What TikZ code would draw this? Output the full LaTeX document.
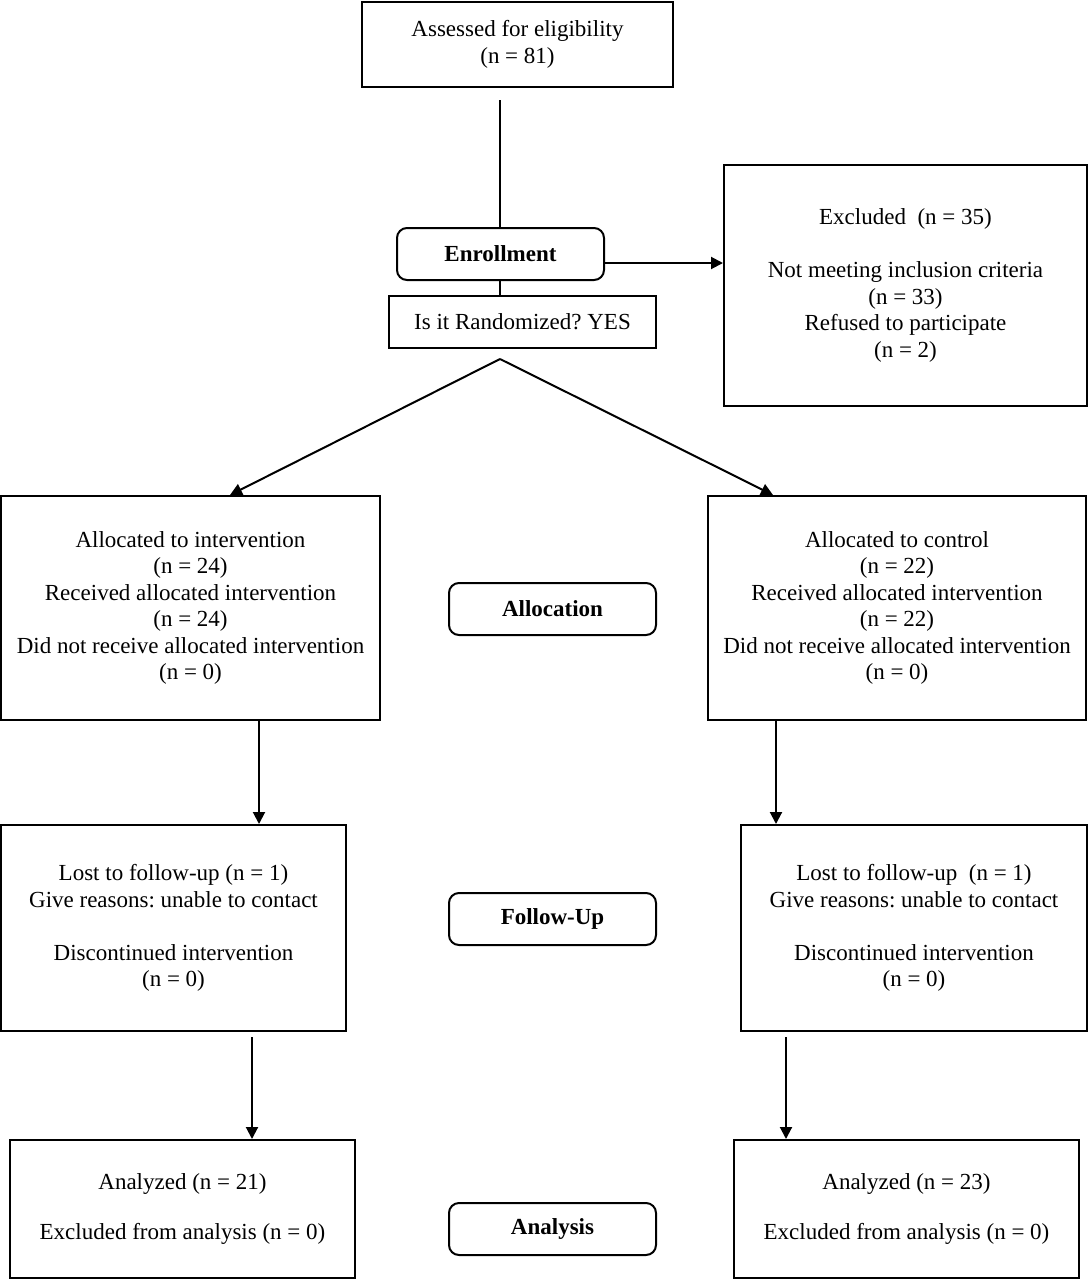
\documentclass[tikz,border=0pt]{standalone}
\usepackage{fontspec}
\setmainfont{Liberation Serif}
\usetikzlibrary{arrows.meta,calc}
\frenchspacing
\begin{document}
\begin{tikzpicture}[x=0.5pt,y=-0.5pt,
  every node/.style={font=\fontsize{11.5pt}{13.25pt}\selectfont, align=center, inner sep=0pt},
  box/.style={draw, line width=1pt, rectangle},
  stage/.style={draw, line width=1pt, rounded corners=5pt, minimum width=103.5pt, minimum height=26pt, font=\fontsize{11.5pt}{13.25pt}\selectfont\bfseries},
  conn/.style={line width=1pt},
  arr/.style={line width=1pt, -{Triangle[length=6pt,width=6pt]}}
]
\useasboundingbox (0,0) rectangle (1088,1280);

\node[box, minimum width=155.5pt, minimum height=42.5pt] (assess) at (517.5,44.5) {Assessed for eligibility\\(n = 81)};
\node[stage] (enroll) at (500.5,254) {Enrollment};
\node[box, minimum width=133.5pt, minimum height=26pt] (random) at (522.5,322) {Is it Randomized? YES};
\node[box, minimum width=181.5pt, minimum height=120.5pt] (excl) at (905.5,285.5) {Excluded\ \ (n = 35)\\[13.25pt]Not meeting inclusion criteria\\(n = 33)\\Refused to participate\\(n = 2)};

\node[box, minimum width=189.5pt, minimum height=112pt] (allocL) at (190.5,608) {Allocated to intervention\\(n = 24)\\Received allocated intervention\\(n = 24)\\Did not receive allocated intervention\\(n = 0)};
\node[box, minimum width=189pt, minimum height=112pt] (allocR) at (897,608) {Allocated to control\\(n = 22)\\Received allocated intervention\\(n = 22)\\Did not receive allocated intervention\\(n = 0)};
\node[stage] (allocS) at (552.5,609) {Allocation};

\node[box, minimum width=172.5pt, minimum height=103pt] (fuL) at (173.5,928) {Lost to follow-up (n = 1)\\Give reasons: unable to contact\\[13.25pt]Discontinued intervention\\(n = 0)};
\node[box, minimum width=173pt, minimum height=103pt] (fuR) at (914,928) {Lost to follow-up\ \ (n = 1)\\Give reasons: unable to contact\\[13.25pt]Discontinued intervention\\(n = 0)};
\node[stage] (fuS) at (552.5,919) {Follow-Up};

\node[box, minimum width=172.5pt, minimum height=69pt] (anL) at (182.5,1209) {Analyzed (n = 21)\\[11.75pt]Excluded from analysis (n = 0)};
\node[box, minimum width=172.5pt, minimum height=69pt] (anR) at (906.5,1209) {Analyzed (n = 23)\\[11.75pt]Excluded from analysis (n = 0)};
\node[stage] (anS) at (552.5,1229) {Analysis};

% connectors
\coordinate (a1) at (500,100);
\draw[conn] (a1) -- (a1 |- enroll.north);
\coordinate (b1) at (500,280);
\draw[conn] (b1) -- (b1 |- random.north);
\coordinate (e1) at (604,263);
\draw[arr] (e1) -- (e1 -| excl.west);

\coordinate (apex) at (500,359);
\coordinate (tl) at (230,496);
\coordinate (tr) at (773,496);
\draw[arr] (apex) -- (tl |- allocL.north);
\draw[arr] (apex) -- (tr |- allocR.north);

\coordinate (l1) at (259,720);
\draw[arr] (l1 |- allocL.south) -- (l1 |- fuL.north);
\coordinate (r1) at (776,720);
\draw[arr] (r1 |- allocR.south) -- (r1 |- fuR.north);

\coordinate (l2) at (252,1037);
\draw[arr] (l2) -- (l2 |- anL.north);
\coordinate (r2) at (786,1037);
\draw[arr] (r2) -- (r2 |- anR.north);
\end{tikzpicture}
\end{document}
